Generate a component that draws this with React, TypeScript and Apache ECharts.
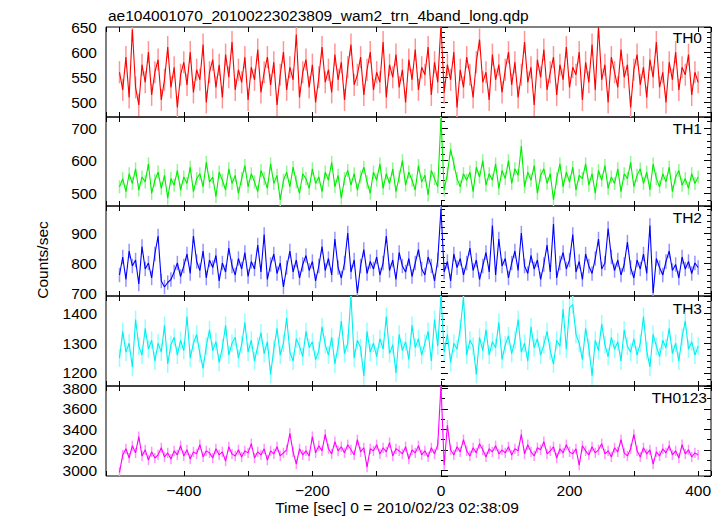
import React, { useEffect, useRef } from 'react';
import * as echarts from 'echarts';

const TITLE = 'ae104001070_20100223023809_wam2_trn_4band_long.qdp';
const X_TITLE = 'Time [sec] 0 = 2010/02/23 02:38:09';
const Y_TITLE = 'Counts/sec';
const T_START = -500;
const T_BIN = 5;
const X_MIN = -521;
const X_MAX = 420;

const th0 = [
  560,525,590,510,645,530,495,575,540,600,515,560,585,505,545,610,530,570,490,555,
  580,535,600,520,565,545,615,500,560,585,530,575,510,595,550,620,525,565,540,590,
  505,570,545,605,520,560,590,535,580,495,555,600,525,570,545,635,510,560,585,530,
  575,500,550,610,540,565,520,595,545,580,505,570,615,535,555,590,515,565,600,525,
  560,540,620,510,575,550,595,530,565,500,585,545,605,525,570,555,610,515,580,540,
  655,520,575,545,600,490,565,530,590,555,510,580,625,540,560,505,595,545,575,520,
  565,600,535,580,510,555,620,540,570,495,585,550,605,525,560,590,515,575,545,610,
  530,570,555,600,505,580,540,615,525,650,545,575,500,590,560,530,605,550,575,490,
  565,595,535,570,510,585,550,620,530,560,500,580,545,600,525,570,555,595,515,560,
  540,
];

const th1 = [
  520,545,505,560,530,575,510,550,535,590,500,540,565,515,555,485,545,525,570,510,
  550,530,580,505,545,560,520,595,535,550,490,565,540,510,575,530,555,500,545,585,
  520,560,535,505,570,545,515,590,530,555,480,540,565,520,580,535,500,560,545,515,
  575,530,550,505,565,540,595,520,555,485,545,570,525,560,510,550,580,535,500,565,
  540,590,515,560,530,575,505,550,600,525,565,540,510,585,535,555,495,570,545,520,
  730,510,560,635,590,545,520,560,540,565,505,580,550,600,525,560,540,590,515,570,
  545,600,530,575,555,645,520,565,540,585,500,555,575,530,560,480,545,590,520,565,
  535,580,510,555,545,590,525,560,500,570,540,585,515,550,530,575,505,560,545,595,
  520,555,575,530,565,510,590,545,520,560,535,580,505,550,570,525,545,515,560,530,
  550,
];

const th2 = [
  760,820,745,840,790,810,730,855,780,800,750,830,890,740,720,735,745,770,800,755,
  790,830,765,890,805,775,840,750,810,785,825,740,800,770,850,790,760,815,780,835,
  755,805,780,860,770,895,745,795,830,765,800,720,785,840,770,810,750,795,825,775,
  805,740,790,855,775,815,760,880,785,750,800,900,770,810,700,790,845,765,805,780,
  820,760,800,890,775,810,745,835,790,770,815,755,800,845,780,760,820,790,740,810,
  980,770,805,740,830,785,815,760,800,850,775,810,745,790,835,770,925,760,880,790,
  815,750,800,840,775,900,790,765,825,780,810,745,795,860,770,930,750,800,835,780,
  810,895,770,805,745,830,790,765,815,880,780,800,915,820,775,810,760,795,870,785,
  750,810,780,830,765,925,700,815,785,760,805,840,775,795,750,820,780,805,765,800,
  785,
];

const th3 = [
  1250,1340,1270,1300,1220,1380,1290,1260,1350,1280,1310,1240,1300,1270,1360,1230,1295,1320,1260,1310,
  1275,1390,1250,1300,1330,1265,1215,1290,1345,1275,1305,1235,1285,1360,1260,1300,1320,1250,1295,1370,
  1270,1310,1240,1290,1335,1265,1305,1195,1280,1350,1260,1300,1385,1270,1240,1315,1290,1255,1340,1285,
  1305,1245,1275,1355,1295,1260,1320,1230,1290,1375,1265,1300,1460,1250,1310,1285,1190,1340,1270,1300,
  1255,1315,1280,1390,1265,1295,1200,1330,1275,1305,1245,1360,1285,1315,1260,1300,1340,1240,1380,1290,
  1460,1270,1330,1235,1300,1280,1350,1455,1260,1310,1290,1195,1320,1275,1345,1260,1305,1285,1370,1245,
  1295,1325,1265,1310,1380,1270,1300,1240,1355,1285,1315,1260,1295,1340,1275,1230,1310,1290,1415,1280,
  1420,1430,1330,1300,1245,1350,1285,1190,1310,1275,1365,1295,1255,1320,1280,1305,1240,1345,1290,1270,
  1315,1260,1300,1390,1275,1220,1330,1290,1255,1310,1285,1350,1265,1300,1240,1320,1375,1280,1305,1260,
  1290,
];

const th0123 = [
  2980,3150,3210,3120,3240,3170,3330,3140,3200,3100,3180,3120,3150,3220,3130,3170,3110,3190,3150,3240,
  3140,3200,3110,3180,3160,3250,3130,3190,3170,3120,3210,3150,3180,3090,3230,3160,3140,3200,3130,3190,
  3170,3260,3120,3180,3150,3210,3100,3190,3160,3230,3140,3170,3200,3360,3180,3060,3210,3150,3190,3140,
  3330,3170,3240,3190,3350,3210,3160,3280,3190,3230,3170,3250,3200,3150,3300,3180,3220,3030,3210,3190,
  3250,3160,3220,3180,3270,3140,3210,3190,3160,3230,3110,3200,3170,3240,3150,3190,3130,3220,3160,3250,
  3830,3050,3440,3200,3150,3230,3180,3300,3190,3140,3220,3170,3260,3200,3130,3210,3180,3240,3160,3200,
  3170,3230,3150,3210,3190,3350,3160,3250,3180,3140,3220,3200,3280,3160,3190,3230,3120,3210,3170,3250,
  3180,3160,3210,3050,3240,3190,3150,3230,3170,3200,3260,3160,3190,3130,3220,3180,3300,3170,3140,3210,
  3350,3190,3130,3220,3160,3200,3060,3180,3140,3210,3170,3240,3150,3190,3120,3250,3160,3200,3130,3170,
  3150,
];

const bandNames = ['TH0', 'TH1', 'TH2', 'TH3', 'TH0123'];
const bandValues = [th0, th1, th2, th3, th0123];
const bandErrors = [22, 20, 24, 30, 50];
const yMins = [471, 461, 690, 1156, 2944];
const yMaxs = [650, 734, 990, 1459, 3824];
const majorSteps = [50, 100, 100, 100, 200];
const minorSteps = [10, 20, 20, 20, 100];

const lineColors = ['#ff0000', '#00ee00', '#0000ff', '#00f0f0', '#ff00ff'];
const errColors = ['#ff9494', '#94f594', '#9494ff', '#94ffff', '#ff94ff'];

const gridTops = [27, 117, 206, 296, 386];
const gridBottoms = [117, 206, 296, 386, 476];
const labelYs = [37, 128, 217.5, 308, 397];
const labelRights = [702, 702, 702, 702, 707];

const FONT = 'Liberation Sans, Arial, Helvetica, sans-serif';
const FS = 15.5;

function fmtNum(v: number) {
  return v < 0 ? '\u2212' + String(-v) : String(v);
}

export default function App() {
  const ref = useRef<HTMLDivElement>(null);
  useEffect(() => {
    if (!ref.current) return;
    const chart = echarts.init(ref.current, undefined, { renderer: 'svg' });
    const W = 723;
    const grids: any[] = [];
    const xAxes: any[] = [];
    const yAxes: any[] = [];
    const series: any[] = [];
    const graphics: any[] = [];
    const xSplit = Math.round((X_MAX - X_MIN) / 100);

    for (let g = 0; g < 5; g++) {
      grids.push({
        left: 106,
        right: W - 711,
        top: gridTops[g],
        height: gridBottoms[g] - gridTops[g],
        show: true,
        borderColor: '#000',
        borderWidth: 1,
        backgroundColor: 'transparent',
      });
      const isLast = g === 4;
      for (const pos of ['bottom', 'top']) {
        xAxes.push({
          type: 'value',
          gridIndex: g,
          position: pos,
          min: X_MIN,
          max: X_MAX,
          splitNumber: xSplit,
          axisLine: { show: false },
          splitLine: { show: false },
          axisTick: { show: true, inside: true, length: 5, lineStyle: { color: '#000', width: 1 } },
          axisLabel: {
            show: isLast && pos === 'bottom',
            margin: 6,
            color: '#000',
            fontSize: FS,
            fontFamily: FONT,
            formatter: (v: number) => (Math.round(v) % 200 === 0 ? fmtNum(Math.round(v)) : ''),
          },
        });
      }
      const span = yMaxs[g] - yMins[g];
      const majSplit = Math.round(span / majorSteps[g]);
      const minSplit = Math.round(span / minorSteps[g]);
      const step = majorSteps[g];
      for (const pos of ['left', 'right']) {
        for (const kind of ['major', 'minor']) {
          yAxes.push({
            type: 'value',
            gridIndex: g,
            position: pos,
            min: yMins[g],
            max: yMaxs[g],
            splitNumber: kind === 'major' ? majSplit : minSplit,
            axisLine: { show: false },
            splitLine: { show: false },
            axisTick: {
              show: true,
              inside: true,
              length: kind === 'major' ? 7 : 4,
              lineStyle: { color: '#000', width: 1 },
            },
            axisLabel: {
              show: pos === 'left' && kind === 'major',
              margin: 9,
              color: '#000',
              fontSize: FS,
              fontFamily: FONT,
              formatter: (v: number) => (Math.round(v) % step === 0 ? fmtNum(Math.round(v)) : ''),
            },
          });
        }
      }
      const vals = bandValues[g];
      const err = bandErrors[g];
      const lineData = vals.map((v, i) => [T_START + i * T_BIN, v]);
      const errData = vals.map((v, i) => [T_START + i * T_BIN, v, err]);
      const errColor = errColors[g];
      series.push({
        type: 'custom',
        xAxisIndex: g * 2,
        yAxisIndex: g * 4,
        clip: true,
        silent: true,
        data: errData,
        encode: { x: 0, y: 1 },
        renderItem: (params: any, api: any) => {
          const x = api.value(0);
          const v = api.value(1);
          const e = api.value(2);
          const p1 = api.coord([x, v + e]);
          const p2 = api.coord([x, v - e]);
          return {
            type: 'line',
            shape: { x1: p1[0], y1: p1[1], x2: p2[0], y2: p2[1] },
            style: { stroke: errColor, lineWidth: 1.5 },
          };
        },
      });
      series.push({
        type: 'line',
        xAxisIndex: g * 2,
        yAxisIndex: g * 4,
        data: lineData,
        showSymbol: false,
        symbol: 'none',
        clip: true,
        lineStyle: { color: lineColors[g], width: 1.1 },
        silent: true,
      });
      graphics.push({
        type: 'text',
        x: labelRights[g],
        y: labelYs[g],
        style: {
          text: bandNames[g],
          fill: '#000',
          font: `${FS}px ${FONT}`,
          textAlign: 'right',
          textVerticalAlign: 'middle',
        },
      });
    }

    graphics.push({
      type: 'text',
      x: 108,
      y: 15,
      style: { text: TITLE, fill: '#000', font: `${FS}px ${FONT}`, textAlign: 'left', textVerticalAlign: 'middle' },
    });
    graphics.push({
      type: 'text',
      x: 397,
      y: 507,
      style: { text: X_TITLE, fill: '#000', font: `${FS}px ${FONT}`, textAlign: 'center', textVerticalAlign: 'middle' },
    });
    graphics.push({
      type: 'text',
      x: 42,
      y: 260,
      rotation: Math.PI / 2,
      style: { text: Y_TITLE, fill: '#000', font: `${FS}px ${FONT}`, textAlign: 'center', textVerticalAlign: 'middle' },
    });

    chart.setOption({
      animation: false,
      backgroundColor: '#fff',
      grid: grids,
      xAxis: xAxes,
      yAxis: yAxes,
      series,
      graphic: graphics,
    });
    return () => chart.dispose();
  }, []);
  return <div ref={ref} style={{ position: 'fixed', left: 0, top: 0, width: 723, height: 516 }} />;
}
